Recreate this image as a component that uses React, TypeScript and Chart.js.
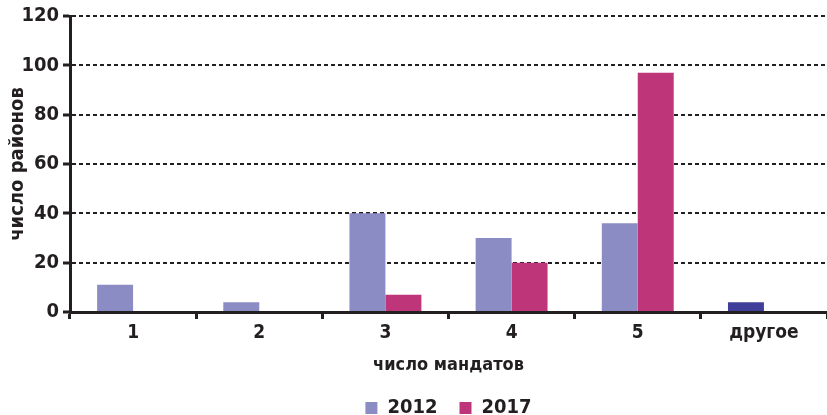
import React, { useEffect, useRef } from "react";
import { Chart, registerables } from "chart.js";

Chart.register(...registerables);

const categories = ["1", "2", "3", "4", "5", "другое"];
const values2012 = [11, 4, 40, 30, 36, 4];
const values2017 = [0, 0, 7, 20, 97, 0];
const yTicks = [0, 20, 40, 60, 80, 100, 120];

const INK = "#231f20";
const C2012 = "#8b8cc4";
const C2017 = "#be3579";
const COTHER = "#3f3f99";
const FONT = "'Liberation Sans Narrow', 'DejaVu Sans Condensed', 'Open Sans', sans-serif";

export default function App() {
  const ref = useRef<HTMLCanvasElement | null>(null);

  useEffect(() => {
    document.body.style.margin = "0";
    const canvas = ref.current;
    if (!canvas) return;
    const chart = new Chart(canvas, {
      type: "bar",
      data: {
        labels: categories,
        datasets: [
          {
            label: "2012",
            data: values2012,
            backgroundColor: (ctx: any) =>
              ctx.type === "data" && ctx.dataIndex === 5 ? COTHER : C2012,
            borderWidth: 0,
          },
          {
            label: "2017",
            data: values2017,
            backgroundColor: C2017,
            borderWidth: 0,
          },
        ],
      },
      options: {
        responsive: false,
        animation: false,
        layout: { padding: { top: 11, right: -5, left: 0, bottom: -13 } },
        datasets: { bar: { barPercentage: 1, categoryPercentage: 0.57 } },
        scales: {
          x: {
            grid: {
              display: true,
              drawOnChartArea: false,
              drawTicks: true,
              tickLength: 7,
              tickWidth: 3,
              tickColor: INK,
            },
            border: { display: true, color: INK, width: 3 },
            ticks: {
              color: INK,
              font: { family: FONT, size: 19, weight: "bold" },
              padding: 3,
            },
            title: {
              display: true,
              text: "число мандатов",
              color: INK,
              font: { family: FONT, size: 18, weight: "bold" },
              padding: { top: 0, bottom: 0 },
            },
            afterFit: (scale: any) => {
              scale.height = 64;
            },
          },
          y: {
            min: 0,
            max: 120,
            afterBuildTicks: (scale: any) => {
              scale.ticks = yTicks.map((v) => ({ value: v }));
            },
            grid: {
              color: INK,
              lineWidth: 2,
              drawTicks: true,
              tickLength: 7,
              tickWidth: 3,
              tickColor: INK,
              tickBorderDash: [],
            },
            border: { display: true, color: INK, width: 3, dash: [4, 3] },
            ticks: {
              color: INK,
              font: { family: FONT, size: 20, weight: "bold" },
              padding: 4,
            },
            title: {
              display: true,
              text: "число районов",
              color: INK,
              font: { family: FONT, size: 20, weight: "bold" },
              padding: { top: 6, bottom: 4 },
            },
            afterFit: (scale: any) => {
              scale.width = 70;
            },
          },
        },
        plugins: {
          legend: {
            position: "bottom",
            fullSize: false,
            labels: {
              color: INK,
              boxWidth: 12,
              boxHeight: 12,
              padding: 22,
              font: { family: FONT, size: 20, weight: "bold" },
            },
          },
          tooltip: { enabled: false },
        },
      },
    });
    return () => chart.destroy();
  }, []);

  return <canvas ref={ref} width={827} height={415} style={{ display: "block" }} />;
}
